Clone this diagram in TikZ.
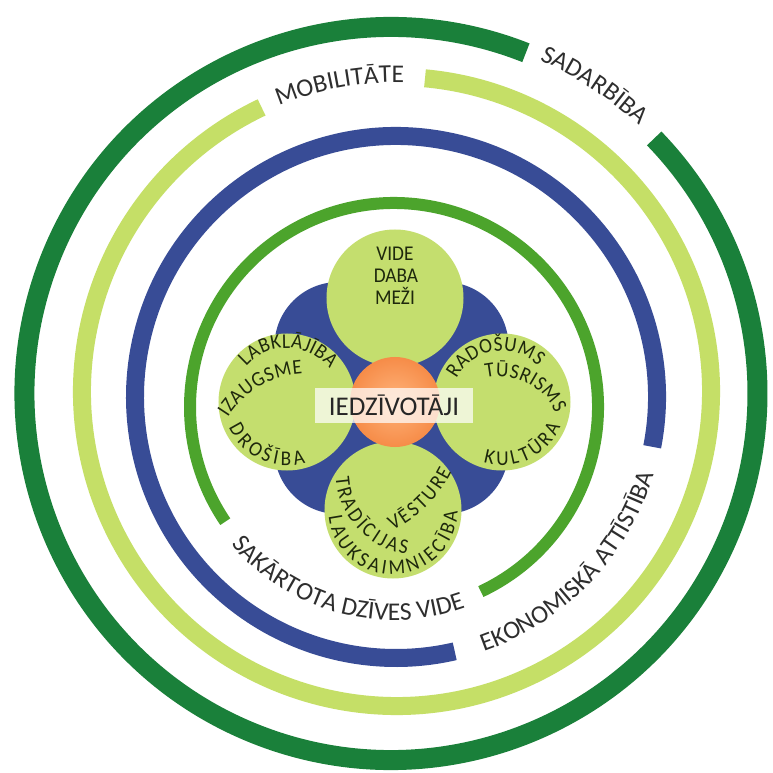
\documentclass[tikz,border=0pt]{standalone}
\usepackage{fontspec}
\setmainfont{Carlito}
\newfontfamily\petalfamily[FakeStretch=0.92]{Carlito}
\usepackage{tikz}
\usetikzlibrary{calc,decorations.text}
\definecolor{ringdark}{HTML}{1A803A}
\definecolor{ringlight}{HTML}{C5DF67}
\definecolor{ringblue}{HTML}{384C96}
\definecolor{ringmid}{HTML}{4CA42C}
\definecolor{petalgreen}{HTML}{C4DE6E}
\definecolor{coreorange}{HTML}{F68C48}
\definecolor{corelight}{HTML}{FFB47C}
\definecolor{petaltext}{HTML}{1E280C}
\definecolor{ringtext}{HTML}{2E2E2E}
\newcommand{\ringfont}{\fontsize{25.5}{25.5}\selectfont\color{ringtext}}
\newcommand{\petalfont}{\petalfamily\fontsize{21}{21}\selectfont\color{petaltext}}
\tikzstyle{ringdk}=[draw=ringdark, line width=20pt]
\tikzstyle{ringlt}=[draw=ringlight, line width=18pt]
\tikzstyle{ringbl}=[draw=ringblue, line width=18pt]
\tikzstyle{ringmd}=[draw=ringmid, line width=12pt]
\tikzstyle{petal}=[circle, fill=petalgreen, minimum size=137pt, inner sep=0pt]
\tikzstyle{lobe}=[circle, fill=ringblue, minimum size=128pt, inner sep=0pt]
\tikzstyle{word}=[font=\petalfont, inner sep=0pt, anchor=base]
\tikzstyle{corebox}=[fill=white, fill opacity=0.72, text opacity=1, minimum width=157pt, minimum height=35pt, inner sep=0pt, font=\fontsize{27}{27}\selectfont, text=black!85]
\tikzset{ringlabel/.style={decorate, decoration={text along path, text={|\ringfont|#1}, text align=center}},
         petallabel/.style={decorate, decoration={text along path, text={|\petalfont|#1}, text align=fit to path}}}

\begin{document}
\begin{tikzpicture}[x=1pt, y=1pt]
            \fill[white] (-394,-377) rectangle (378,396);
            \useasboundingbox (-394,-377) rectangle (378,396);
            %\draw[step=50, gray, very thin] (-394,-377) grid (378,396);

            %%%%% centres of the rings
            \coordinate (D0) at (-3,2.5);
            \coordinate (L0) at (2.5,4.5);
            \coordinate (B0) at (2,-1);
            \coordinate (M0) at (0,-11);

            %%%%% rings
            \draw[ringdk] ($(D0)+(68.4:366.5pt)$) arc[start angle=68.4, end angle=404.1, radius=366.5pt];
            \draw[ringlt] ($(L0)+(115.4:314.5pt)$) arc[start angle=115.4, end angle=444.8, radius=314.5pt];
            \draw[ringbl] ($(B0)+(-11:261pt)$) arc[start angle=-11, end angle=283, radius=261pt];
            \draw[ringmd] ($(M0)+(-64.8:204pt)$) arc[start angle=-64.8, end angle=214.2, radius=204pt];

            %%%%% ring labels
            \path[ringlabel=SADARBĪBA] ($(D0)+(80:365pt)$) arc[start angle=80, end angle=33.2, radius=365pt];
            \path[ringlabel=MOBILITĀTE] ($(L0)+(125:309pt)$) arc[start angle=125, end angle=76, radius=309pt];
            \path[ringlabel=EKONOMISKĀ ATTĪSTĪBA] ($(B0)+(256:269pt)$) arc[start angle=256, end angle=376.4, radius=269pt];
            \path[ringlabel=SAKĀRTOTA DZĪVES VIDE] ($(M0)+(190:213pt)$) arc[start angle=190, end angle=319.8, radius=213pt];

            %%%%% flower
            \coordinate (F) at (1,-6);
            \node[lobe] (lobe1) at (50.5,50) {};
            \node[lobe] (lobe2) at (-55.5,50) {};
            \node[lobe] (lobe3) at (-55.5,-54) {};
            \node[lobe] (lobe4) at (50.5,-54) {};
            \node[petal] (ptop) at (1,98) {};
            \node[petal] (pleft) at (-107,-6) {};
            \node[petal] (pright) at (108,-6) {};
            \node[petal] (pbottom) at (-1,-114) {};
            \shade[inner color=corelight, outer color=coreorange] (F) circle[radius=45pt];
            \node[corebox] (core) at (0,-9.5) {IEDZĪVOTĀJI};

            %%%%% top petal
            \node[word] (vide) at (1,135) {VIDE};
            \node[word] (daba) at (2,113) {DABA};
            \node[word] (mezi) at (1,91) {MEŽI};
            %%%%% left petal
            \coordinate (C1) at (-86.5,-71.5);
            \path[petallabel=LABKLĀJĪBA] ($(pleft)+(139:54pt)$) arc[start angle=139, end angle=38, radius=54pt];
            \path[petallabel=IZAUGSME] ($(C1)+(148:94pt)$) arc[start angle=148, end angle=93, radius=94pt];
            \path[petallabel=DROŠĪBA] ($(pleft)+(204:63.5pt)$) arc[start angle=204, end angle=287, radius=63.5pt];
            %%%%% right petal
            \coordinate (C2) at (105.5,-41);
            \path[petallabel=RADOŠUMS] ($(pright)+(153:51pt)$) arc[start angle=153, end angle=45, radius=51pt];
            \path[petallabel=TŪSRISMS] ($(C2)+(103:60.5pt)$) arc[start angle=103, end angle=23, radius=60.5pt];
            \path[petallabel=KULTŪRA] ($(pright)+(253:63.5pt)$) arc[start angle=253, end angle=337, radius=63.5pt];
            %%%%% bottom petal
            \coordinate (C3) at (24,-76.5);
            \coordinate (C4) at (-60,-17);
            \path[petallabel=TRADĪCIJAS] ($(C3)+(183.3:82.4pt)$) arc[start angle=183.3, end angle=262.3, radius=82.4pt];
            \path[petallabel=VĒSTURE] ($(C4)+(296.5:131.4pt)$) arc[start angle=296.5, end angle=333.4, radius=131.4pt];
            \path[petallabel=LAUKSAIMNIECĪBA] ($(pbottom)+(186:64.5pt)$) arc[start angle=186, end angle=359, radius=64.5pt];
\end{tikzpicture}
\end{document}
